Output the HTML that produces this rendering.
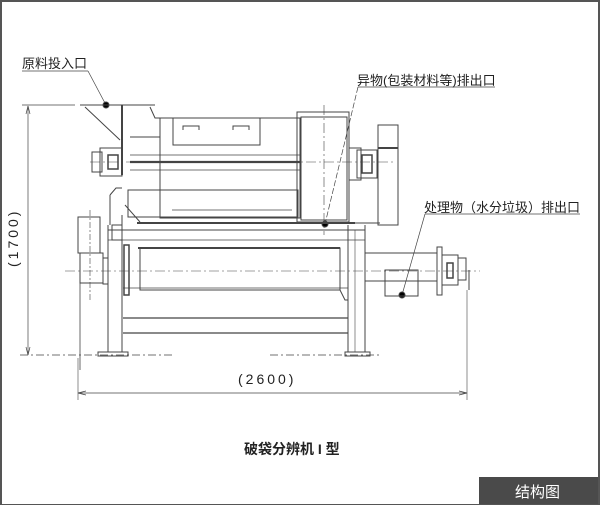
<!DOCTYPE html>
<html><head><meta charset="utf-8"><style>
html,body{margin:0;padding:0;background:#fff}
#w{position:relative;width:596px;height:502px;border:2px solid #555;border-bottom-width:1px;overflow:hidden;background:#fff}
.t{position:absolute;font-family:"Liberation Sans","Noto Sans CJK SC",sans-serif;color:#222;white-space:nowrap}
</style></head><body><div id="w">
<svg width="600" height="505" viewBox="0 0 600 505" style="position:absolute;left:-2px;top:-2px" fill="none" stroke="#444" stroke-width="1">
<line x1="22" y1="71" x2="88" y2="71" stroke-width="0.7"/>
<line x1="88" y1="71" x2="106" y2="105" stroke-width="0.7"/>
<circle cx="106" cy="105" r="3" fill="#000"/>
<line x1="358" y1="87" x2="495" y2="87" stroke-width="0.7"/>
<line x1="358" y1="87" x2="325" y2="224" stroke-width="0.7" stroke-dasharray="6,2"/>
<circle cx="325" cy="224" r="3" fill="#000"/>
<line x1="425" y1="214" x2="580" y2="214" stroke-width="0.7"/>
<line x1="425" y1="214" x2="402" y2="295" stroke-width="0.7"/>
<circle cx="402" cy="295" r="3" fill="#000"/>
<line x1="22" y1="105" x2="75" y2="105" stroke-width="0.7"/>
<line x1="80" y1="105" x2="155" y2="105"/>
<line x1="28" y1="106" x2="28" y2="355" stroke-width="0.7"/>
<path d="M26,114 L28,106 L30,114 M26,347 L28,355 L30,347" stroke-width="0.7"/>
<line x1="20" y1="355" x2="175" y2="355" stroke-dasharray="8,3,2,3" stroke-width="0.8"/>
<line x1="270" y1="355" x2="380" y2="355" stroke-dasharray="8,3,2,3" stroke-width="0.8"/>
<line x1="78" y1="358" x2="78" y2="400" stroke-width="0.6"/>
<line x1="467" y1="290" x2="467" y2="400" stroke-width="0.6"/>
<line x1="78" y1="393" x2="467" y2="393" stroke-width="0.8"/>
<path d="M86,391 L78,393 L86,395 M459,391 L467,393 L459,395" stroke-width="0.7"/>
<line x1="65" y1="271" x2="480" y2="271" stroke-dasharray="10,3,2,3" stroke-width="0.6"/>
<line x1="90" y1="162" x2="395" y2="162" stroke-dasharray="10,3,2,3" stroke-width="0.6"/>
<line x1="324" y1="105" x2="324" y2="235" stroke-dasharray="10,3,2,3" stroke-width="0.6"/>
<line x1="85" y1="107" x2="120" y2="140"/>
<line x1="122" y1="105" x2="122" y2="175" stroke-width="2"/>
<path d="M150,107 L155,118 L160,118 L160,137 L130,137"/>
<rect x="160" y="118" width="140" height="100"/>
<rect x="173" y="118" width="87" height="27"/>
<path d="M183,130 v-4 h16 v4 M233,130 v-4 h16 v4"/>
<line x1="130" y1="155" x2="300" y2="155" stroke-width="0.8"/>
<line x1="130" y1="162" x2="300" y2="162" stroke-width="2.2"/>
<line x1="130" y1="170" x2="300" y2="170" stroke-width="0.8"/>
<rect x="128" y="190" width="170" height="27"/>
<line x1="172" y1="210" x2="292" y2="210" stroke-width="0.7"/>
<path d="M110,195 L110,225 M110,195 L116,188 L122,188"/>
<path d="M125,205 L140,222"/>
<rect x="100" y="148" width="22" height="28"/>
<rect x="92" y="152" width="10" height="20"/>
<rect x="108" y="155" width="10" height="14" stroke-width="1.5"/>
<rect x="297" y="112" width="52" height="110"/>
<rect x="301" y="117" width="46" height="103"/>
<rect x="349" y="148" width="12" height="32"/>
<rect x="357" y="150" width="20" height="28"/>
<rect x="362" y="155" width="10" height="18" stroke-width="1.5"/>
<rect x="378" y="125" width="20" height="100"/>
<line x1="378" y1="148" x2="398" y2="148" stroke-width="2"/>
<line x1="137" y1="223" x2="355" y2="223" stroke-width="2"/>
<line x1="108" y1="230" x2="365" y2="230"/>
<line x1="108" y1="240" x2="365" y2="240" stroke-width="0.7"/>
<line x1="138" y1="248" x2="340" y2="248" stroke-width="2"/>
<rect x="140" y="248" width="200" height="42"/>
<line x1="123" y1="288" x2="348" y2="288" stroke-width="0.8"/>
<line x1="123" y1="318" x2="348" y2="318" stroke-width="1.2"/>
<line x1="123" y1="333" x2="348" y2="333" stroke-width="1.2"/>
<rect x="78" y="217" width="22" height="36"/>
<rect x="80" y="253" width="23" height="30"/>
<rect x="103" y="258" width="5" height="26"/>
<line x1="90" y1="210" x2="90" y2="300" stroke-dasharray="6,2,2,2" stroke-width="0.6"/>
<line x1="80" y1="283" x2="80" y2="370" stroke-width="0.8"/>
<line x1="108" y1="225" x2="108" y2="352"/>
<line x1="122" y1="215" x2="122" y2="352"/>
<rect x="112" y="225" width="10" height="15"/>
<rect x="124" y="245" width="5" height="50" stroke-width="1.5"/>
<rect x="98" y="352" width="30" height="4"/>
<line x1="348" y1="225" x2="348" y2="352"/>
<line x1="365" y1="225" x2="365" y2="352"/>
<line x1="355" y1="230" x2="355" y2="352" stroke-width="0.6"/>
<rect x="345" y="352" width="25" height="4"/>
<line x1="355" y1="223" x2="380" y2="223"/>
<path d="M340,290 L345,300 L348,300"/>
<rect x="365" y="253" width="72" height="28"/>
<rect x="385" y="270" width="33" height="26"/>
<rect x="437" y="247" width="5" height="48"/>
<rect x="442" y="255" width="16" height="30"/>
<rect x="458" y="258" width="8" height="22"/>
<rect x="447" y="263" width="6" height="15" stroke-width="1.5"/>
<line x1="469" y1="270" x2="469" y2="290"/>
</svg>
<div class="t" style="left:20px;top:51px;font-size:13px">原料投入口</div>
<div class="t" style="left:355px;top:68px;font-size:13px">异物(包装材料等)排出口</div>
<div class="t" style="left:422px;top:195px;font-size:13px">处理物（水分垃圾）排出口</div>
<div class="t" style="left:3px;top:265px;font-size:14px;transform:rotate(-90deg);transform-origin:left top;letter-spacing:3px">(1700)</div>
<div class="t" style="left:236px;top:369px;font-size:14px;letter-spacing:3px">(2600)</div>
<div class="t" style="left:242px;top:437px;font-size:14px;font-weight:bold">破袋分辨机 I 型</div>
<div style="position:absolute;left:477px;top:475px;width:121px;height:28px;background:#4a4a4a"></div>
<div class="t" style="left:513px;top:479px;font-size:15px;color:#fff">结构图</div>
</div></body></html>
